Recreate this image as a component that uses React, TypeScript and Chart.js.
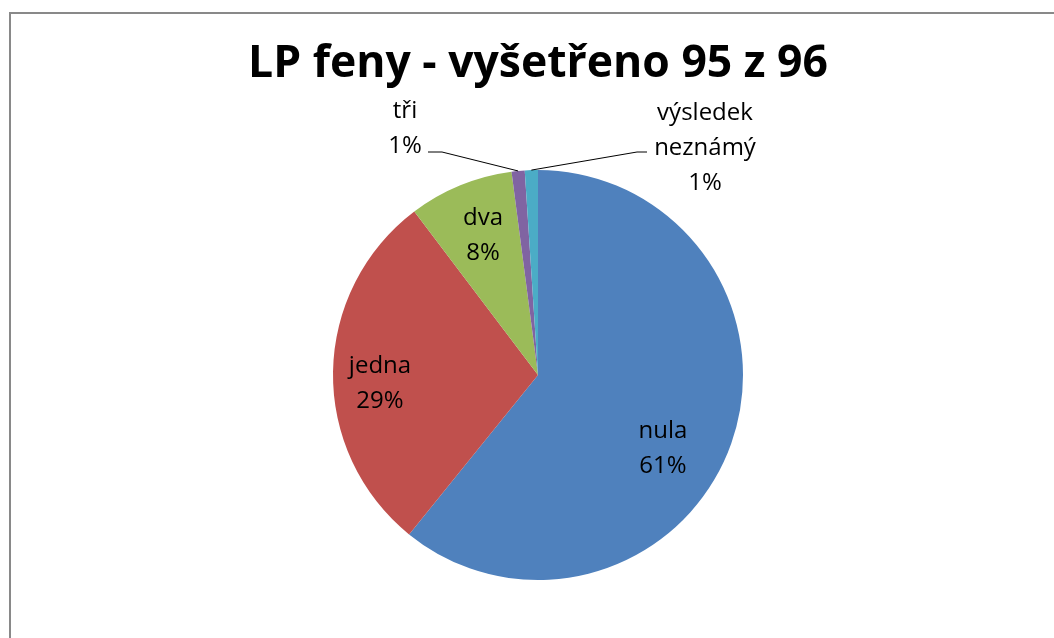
import React, { useEffect, useRef } from "react";
import { Chart, registerables } from "chart.js";

Chart.register(...registerables);

const TITLE = "LP feny - vyšetřeno 95 z 96";
const categories = ["nula", "jedna", "dva", "tři", "výsledek neznámý"];
const counts = [59, 28, 8, 1, 1];
const colors = ["#4F81BD", "#C0504D", "#9BBB59", "#8064A2", "#4BACC6"];

// label layout (px offsets from pie centre): first-line baseline position
const labelLayout = [
  { dx: 125, dy: 63 },
  { dx: -158, dy: -2 },
  { dx: -55, dy: -150 },
  { dx: -133, dy: -257, line: { sx: -110, sy: -223, kx: -96, ky: -223 } },
  { dx: 167, dy: -255, line: { sx: 109, sy: -223, kx: 99, ky: -223 } },
];

const W = 1054;
const H = 638;

const decorPlugin = {
  id: "decor",
  beforeDraw(chart: any) {
    const ctx = chart.ctx;
    ctx.save();
    ctx.fillStyle = "#ffffff";
    ctx.fillRect(0, 0, W, H);
    ctx.restore();
  },
  afterDraw(chart: any) {
    const ctx = chart.ctx as CanvasRenderingContext2D;
    const meta = chart.getDatasetMeta(0);
    const total = counts.reduce((a, b) => a + b, 0);
    ctx.save();
    // frame
    ctx.strokeStyle = "#898989";
    ctx.lineWidth = 2;
    ctx.beginPath();
    ctx.moveTo(10, H + 5);
    ctx.lineTo(10, 13);
    ctx.lineTo(W + 5, 13);
    ctx.stroke();

    // title
    let size = 36;
    ctx.font = `bold ${size}px "Open Sans"`;
    const mw = ctx.measureText(TITLE).width;
    size = size * 580 / mw;
    ctx.font = `bold ${size}px "Open Sans"`;
    ctx.fillStyle = "#000";
    ctx.textAlign = "center";
    ctx.textBaseline = "alphabetic";
    const first = meta.data[0].getProps(["x", "y"], true);
    ctx.fillText(TITLE, first.x, 77);

    // labels
    ctx.font = `24px "Open Sans"`;
    const lh = 35;
    meta.data.forEach((arc: any, i: number) => {
      const p = arc.getProps(["x", "y", "startAngle", "endAngle", "outerRadius"], true);
      const lay = labelLayout[i];
      const lines = categories[i].split(" ");
      lines.push(Math.round((counts[i] / total) * 100) + "%");
      const tx = p.x + lay.dx;
      const ty = p.y + lay.dy;
      ctx.fillStyle = "#000";
      lines.forEach((t, k) => ctx.fillText(t, tx, ty + k * lh));
      if (lay.line) {
        const mid = (p.startAngle + p.endAngle) / 2;
        const ex = p.x + Math.cos(mid) * p.outerRadius;
        const ey = p.y + Math.sin(mid) * p.outerRadius;
        ctx.strokeStyle = "#000";
        ctx.lineWidth = 1;
        ctx.beginPath();
        ctx.moveTo(p.x + lay.line.sx, p.y + lay.line.sy);
        ctx.lineTo(p.x + lay.line.kx, p.y + lay.line.ky);
        ctx.lineTo(ex, ey);
        ctx.stroke();
      }
    });
    ctx.restore();
  },
};

export default function App() {
  const ref = useRef<HTMLCanvasElement>(null);
  useEffect(() => {
    if (!ref.current) return;
    const chart = new Chart(ref.current, {
      type: "pie",
      data: {
        labels: categories,
        datasets: [
          {
            data: counts,
            backgroundColor: colors,
            borderWidth: 0,
          },
        ],
      },
      options: {
        responsive: false,
        animation: false,
        layout: { padding: { left: 333, right: 311, top: 170, bottom: 58 } },
        plugins: {
          legend: { display: false },
          tooltip: { enabled: false },
          title: { display: false },
        },
      },
      plugins: [decorPlugin],
    });
    return () => chart.destroy();
  }, []);
  return (
    <div style={{ position: "fixed", left: 0, top: 0, width: W, height: H, background: "#fff" }}>
      <canvas ref={ref} width={W} height={H} style={{ width: W, height: H, display: "block" }} />
    </div>
  );
}
